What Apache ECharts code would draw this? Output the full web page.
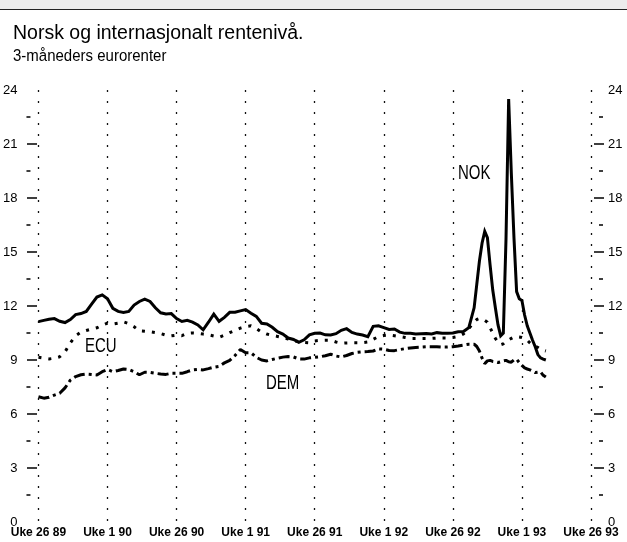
<!DOCTYPE html>
<html>
<head>
<meta charset="utf-8">
<title>Norsk og internasjonalt rentenivå</title>
<script src="https://cdn.jsdelivr.net/npm/echarts@6/dist/echarts.min.js"></script>
<style>
  html, body { margin: 0; padding: 0; background: #fff; }
  #main { width: 627px; height: 542px; }
</style>
</head>
<body>
<div id="main"></div>
<script>
// uke-nummer regnet fra uke 26 1989
var weeks = [
  0, 2, 4, 6, 8, 10, 12, 14, 16, 18, 20,
  22, 24, 26, 28, 30, 32, 34, 36, 38, 40, 42,
  44, 46, 48, 50, 52, 54, 56, 58, 60, 62, 64,
  66, 68, 70, 72, 74, 76, 78, 80, 82, 84, 86,
  88, 90, 92, 94, 96, 98, 100, 102, 104, 106, 108,
  110, 112, 114, 116, 118, 120, 122, 124, 126, 128, 130,
  132, 134, 136, 138, 140, 142, 144, 146, 148, 150, 152,
  154, 156, 158, 160, 162, 164,
  165, 166, 167, 168, 169, 170, 171, 172, 173, 174, 175, 176, 177, 178,
  179, 180, 181, 182, 183, 184, 185, 186, 187, 188, 189, 190, 191
];
var nok = [
  11.13, 11.2, 11.26, 11.3, 11.15, 11.08, 11.25, 11.52, 11.58, 11.7, 12.1,
  12.5, 12.62, 12.4, 11.87, 11.7, 11.64, 11.7, 12.05, 12.25, 12.38, 12.25,
  11.9, 11.62, 11.56, 11.58, 11.3, 11.14, 11.2, 11.1, 10.95, 10.68, 11.1,
  11.55, 11.15, 11.37, 11.65, 11.65, 11.73, 11.8, 11.6, 11.42, 11.04, 11.0,
  10.82, 10.57, 10.44, 10.22, 10.14, 9.98, 10.12, 10.4, 10.48, 10.5, 10.4,
  10.39, 10.46, 10.65, 10.74, 10.53, 10.44, 10.39, 10.3, 10.87, 10.9, 10.8,
  10.7, 10.72, 10.55, 10.48, 10.48, 10.45, 10.46, 10.47, 10.45, 10.52, 10.48,
  10.48, 10.5, 10.57, 10.58, 10.8, 11.9,
  13.2, 14.5, 15.5, 16.15, 15.8, 14.3, 12.9, 11.9, 10.95, 10.35, 10.5, 15.7, 23.5, 19.4,
  15.8, 12.8, 12.4, 12.3, 11.5, 10.9, 10.5, 10.1, 9.74, 9.3, 9.12, 9.05, 9.0
];
var ecu = [
  9.15, 9.1, 9.06, 9.1, 9.18, 9.45, 9.95, 10.35, 10.55, 10.64, 10.72,
  10.79, 10.93, 11.05, 11.0, 11.05, 11.12, 11.02, 10.85, 10.62, 10.6, 10.57,
  10.52, 10.47, 10.38, 10.34, 10.38, 10.35, 10.48, 10.5, 10.48, 10.44, 10.4,
  10.33, 10.26, 10.38, 10.52, 10.64, 10.77, 10.86, 10.9, 10.75, 10.55, 10.44,
  10.37, 10.31, 10.25, 10.17, 10.08, 10.02, 9.97, 9.95, 10.06, 10.09, 10.1,
  10.1, 10.0, 9.93, 9.95, 9.96, 9.96, 9.96, 10.0, 10.15, 10.3, 10.36,
  10.39, 10.35, 10.3, 10.25, 10.2, 10.2, 10.2, 10.2, 10.2, 10.22, 10.22,
  10.22, 10.25, 10.3, 10.45, 10.75, 11.1,
  11.25, 11.3, 11.25, 11.2, 11.1, 10.8, 10.5, 10.2, 10.0, 9.85, 9.9, 10.05, 10.12, 10.2,
  10.28, 10.3, 10.28, 10.25, 10.2, 10.1, 9.95, 9.82, 9.75, 9.7, 9.6, 9.55, 9.5
];
var dem = [
  6.96, 6.88, 6.93, 7.05, 7.15, 7.45, 7.88, 8.08, 8.18, 8.22, 8.2,
  8.17, 8.35, 8.47, 8.35, 8.42, 8.5, 8.47, 8.35, 8.18, 8.32, 8.31,
  8.26, 8.22, 8.2, 8.26, 8.26, 8.26, 8.35, 8.45, 8.48, 8.45, 8.52,
  8.6, 8.65, 8.84, 8.98, 9.25, 9.58, 9.4, 9.4, 9.15, 9.0, 8.95,
  9.03, 9.1, 9.16, 9.19, 9.17, 9.06, 9.05, 9.12, 9.15, 9.18, 9.24,
  9.32, 9.22, 9.17, 9.25, 9.36, 9.43, 9.46, 9.47, 9.5, 9.62, 9.6,
  9.53, 9.52, 9.58, 9.63, 9.67, 9.7, 9.72, 9.74, 9.74, 9.74, 9.72,
  9.72, 9.74, 9.78, 9.83, 9.88, 9.88,
  9.75, 9.5, 9.1, 8.8, 8.95, 8.98, 8.92, 8.9, 8.86, 8.9, 8.95, 8.98, 8.9, 8.88,
  9.0, 9.05, 8.85, 8.7, 8.56, 8.5, 8.45, 8.38, 8.3, 8.32, 8.34, 8.15, 8.05
];
var xLabels = ['Uke 26 89', 'Uke 1 90', 'Uke 26 90', 'Uke 1 91', 'Uke 26 91',
  'Uke 1 92', 'Uke 26 92', 'Uke 1 93', 'Uke 26 93'];

var sans = "'Liberation Sans', Arial, Helvetica, sans-serif";

function pairs(vals) {
  return weeks.map(function (w, i) { return [w, vals[i]]; });
}

// tekst som strekkes litt i høyden (originalen bruker en smal Helvetica)
function label(txt, x, y, size, sy) {
  return {
    type: 'text', x: x, y: y, scaleY: sy,
    style: { text: txt, font: size + 'px ' + sans, fill: '#000', verticalAlign: 'top' }
  };
}

var chart = echarts.init(document.getElementById('main'));

var tickStyle = { color: '#000', width: 1.5 };

var option = {
  animation: false,
  backgroundColor: '#fff',
  grid: [
    { left: 37, right: 36, top: 90, bottom: 20 },
    { left: 37, right: 36, top: 144, bottom: 74 }
  ],
  xAxis: [
    {
      type: 'value', gridIndex: 0, min: 0, max: 208, interval: 26,
      axisLine: { show: false }, axisTick: { show: false },
      splitLine: { show: true, lineStyle: { color: '#111', width: 1.3, type: [2, 9] } },
      axisLabel: {
        margin: 5, color: '#000', fontFamily: sans, fontWeight: 'bold', fontSize: 12,
        showMinLabel: true, showMaxLabel: true,
        formatter: function (v) { return xLabels[Math.round(v / 26)]; }
      }
    },
    { type: 'value', gridIndex: 1, min: 0, max: 1, show: false }
  ],
  yAxis: [
    { // venstre tall
      type: 'value', gridIndex: 0, position: 'left', offset: 3, min: 0, max: 24, interval: 3,
      axisLine: { show: false }, axisTick: { show: false }, splitLine: { show: false },
      axisLabel: { margin: 18, color: '#000', fontFamily: sans, fontSize: 13 }
    },
    { // venstre små streker
      type: 'value', gridIndex: 0, position: 'left', offset: 8, min: 0, max: 24, interval: 3,
      axisLine: { show: false }, axisTick: { show: false }, splitLine: { show: false },
      axisLabel: { show: false },
      minorTick: { show: true, splitNumber: 2, length: 4, lineStyle: tickStyle }
    },
    { // høyre tall
      type: 'value', gridIndex: 0, position: 'right', offset: 3, min: 0, max: 24, interval: 3,
      axisLine: { show: false }, axisTick: { show: false }, splitLine: { show: false },
      axisLabel: { margin: 14, color: '#000', fontFamily: sans, fontSize: 13 }
    },
    { // høyre små streker
      type: 'value', gridIndex: 0, position: 'right', offset: 8, min: 0, max: 24, interval: 3,
      axisLine: { show: false }, axisTick: { show: false }, splitLine: { show: false },
      axisLabel: { show: false },
      minorTick: { show: true, splitNumber: 2, length: 4, lineStyle: tickStyle }
    },
    { // store streker 3-21 venstre
      type: 'value', gridIndex: 1, position: 'left', offset: 3, min: 3, max: 21, interval: 3,
      axisLine: { show: false }, splitLine: { show: false }, axisLabel: { show: false },
      axisTick: { show: true, length: 10, lineStyle: tickStyle }
    },
    { // store streker 3-21 høyre
      type: 'value', gridIndex: 1, position: 'right', offset: 3, min: 3, max: 21, interval: 3,
      axisLine: { show: false }, splitLine: { show: false }, axisLabel: { show: false },
      axisTick: { show: true, length: 10, lineStyle: tickStyle }
    }
  ],
  series: [
    {
      name: 'ECU', type: 'line', xAxisIndex: 0, yAxisIndex: 0, data: pairs(ecu),
      symbol: 'none', lineStyle: { color: '#000', width: 3, type: [3, 7] }
    },
    {
      name: 'DEM', type: 'line', xAxisIndex: 0, yAxisIndex: 0, data: pairs(dem),
      symbol: 'none', lineStyle: { color: '#000', width: 3, type: [11, 4, 3, 4] }
    },
    {
      name: 'NOK', type: 'line', xAxisIndex: 0, yAxisIndex: 0, data: pairs(nok),
      symbol: 'none', lineStyle: { color: '#000', width: 3, join: 'miter' }
    }
  ],
  graphic: [
    { type: 'rect', left: 0, top: 0, shape: { width: 627, height: 9 }, style: { fill: '#ececec' } },
    { type: 'line', shape: { x1: 0, y1: 9.5, x2: 627, y2: 9.5 }, style: { stroke: '#222', lineWidth: 1.2 } },
    label('Norsk og internasjonalt rentenivå.', 13, 24, 19.5, 1),
    label('3-måneders eurorenter', 13, 47, 15, 1.16),
    label('ECU', 85, 337, 15, 1.3),
    label('DEM', 266, 374, 15, 1.3),
    label('NOK', 458, 164, 15, 1.3)
  ]
};

chart.setOption(option);
</script>
</body>
</html>
